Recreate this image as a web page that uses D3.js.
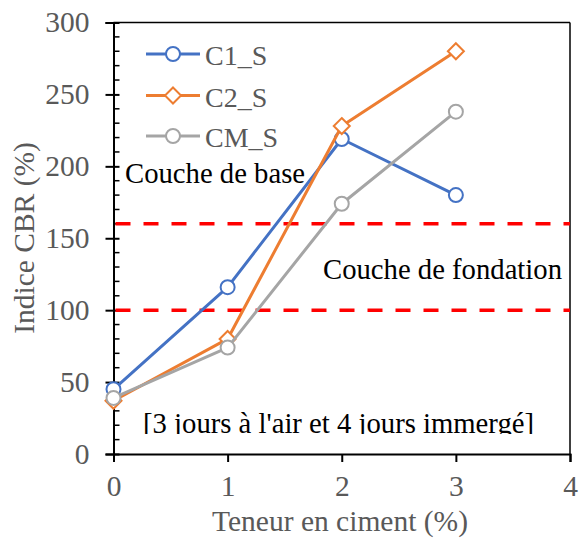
<!DOCTYPE html>
<html>
<head>
<meta charset="utf-8">
<script src="https://cdn.jsdelivr.net/npm/d3@7/dist/d3.min.js"></script>
<style>
  html, body { margin: 0; padding: 0; background: #fff; }
  svg { display: block; }
</style>
</head>
<body>
<svg id="chart" width="585" height="539"></svg>
<script>
const xValues = [0, 1, 2, 3];
const seriesNames = ["C1_S", "C2_S", "CM_S"];
const c1Values = [45, 116, 219, 180];
const c2Values = [37, 80, 228, 280];
const cmValues = [39, 74, 174, 238];
const seriesColors = ["#4472C4", "#ED7D31", "#A5A5A5"];
const seriesMarkers = ["circle", "diamond", "circle"];
const xTicks = [0, 1, 2, 3, 4];
const yTicks = [0, 50, 100, 150, 200, 250, 300];
const thresholds = [160, 100];
const annotations = ["Couche de base", "Couche de fondation", "[3 jours à l'air et 4 jours immergé]"];
const xTitle = "Teneur en ciment (%)";
const yTitle = "Indice CBR (%)";

const allValues = [c1Values, c2Values, cmValues];
const series = seriesNames.map((n, i) => ({
  name: n, color: seriesColors[i], marker: seriesMarkers[i],
  points: xValues.map((x, j) => ({x: x, y: allValues[i][j]}))
}));

const svg = d3.select("#chart");
const L = 113.5, R = 570, T = 22.5, B = 454;
const x = d3.scaleLinear().domain([0, 4]).range([L, R]);
const y = d3.scaleLinear().domain([0, 300]).range([B, T]);
const FS_AX = 29.5, FS_AN = 28.7, FS_LG = 28;
const grayText = "#595959";
const FF = "'Liberation Serif', 'Times New Roman', Tinos, serif";

svg.append("defs").append("clipPath").attr("id", "plotclip")
  .append("rect").attr("x", L).attr("y", T).attr("width", R - L).attr("height", 434 - T);

// frame top/right
svg.append("line").attr("x1", L).attr("x2", R).attr("y1", T).attr("y2", T).attr("stroke", "#000").attr("stroke-width", 1.5);
svg.append("line").attr("x1", R).attr("x2", R).attr("y1", T).attr("y2", B).attr("stroke", "#000").attr("stroke-width", 1.5);

// minor y ticks (inside)
const minor = d3.range(0, 301, 10).filter(v => v % 50 !== 0);
svg.append("g").selectAll("line").data(minor).join("line")
  .attr("x1", L).attr("x2", L + 6).attr("y1", d => y(d)).attr("y2", d => y(d))
  .attr("stroke", "#000").attr("stroke-width", 1.5);

// y axis
const yAxis = svg.append("g").attr("transform", `translate(${L},0)`)
  .call(d3.axisLeft(y).tickValues(yTicks).tickSize(8).tickPadding(16).tickFormat(d3.format("d")));
yAxis.attr("font-family", FF).attr("font-size", FS_AX);
yAxis.select(".domain").attr("stroke", "#000").attr("stroke-width", 2);
yAxis.selectAll(".tick line").attr("stroke", "#000").attr("stroke-width", 2).attr("x2", -8).attr("x1", 6);
yAxis.selectAll(".tick text").attr("fill", grayText);

// x axis
const xAxis = svg.append("g").attr("transform", `translate(0,${B})`)
  .call(d3.axisBottom(x).tickValues(xTicks).tickSize(8).tickPadding(13).tickFormat(d3.format("d")));
xAxis.attr("font-family", FF).attr("font-size", FS_AX);
xAxis.select(".domain").attr("stroke", "#000").attr("stroke-width", 2);
xAxis.selectAll(".tick line").attr("stroke", "#000").attr("stroke-width", 2);
xAxis.selectAll(".tick text").attr("fill", grayText);

// axis titles
svg.append("text").attr("x", 340).attr("y", 531).attr("text-anchor", "middle")
  .attr("font-family", FF).attr("fill", grayText).attr("font-size", FS_AX).text(xTitle);
svg.append("text").attr("transform", `translate(33.5,238) rotate(-90)`)
  .attr("font-family", FF).attr("text-anchor", "middle").attr("fill", grayText).attr("font-size", FS_AX).text(yTitle);

// threshold dashed lines
svg.append("g").selectAll("line").data(thresholds).join("line")
  .attr("x1", L + 2).attr("x2", R).attr("y1", d => y(d)).attr("y2", d => y(d))
  .attr("stroke", "#FF0000").attr("stroke-width", 3.5).attr("stroke-dasharray", "15,13");

// annotations
svg.append("text").attr("x", 125).attr("y", 183).attr("font-family", FF).attr("font-size", FS_AN).attr("fill", "#000").text(annotations[0]);
svg.append("text").attr("x", 323).attr("y", 279).attr("font-family", FF).attr("font-size", FS_AN).attr("fill", "#000").text(annotations[1]);
svg.append("g").attr("clip-path", "url(#plotclip)")
  .append("text").attr("x", 143).attr("y", 433).attr("font-family", FF).attr("font-size", FS_AN).attr("fill", "#000").text(annotations[2]);

// series
const line = d3.line().x(d => x(d.x)).y(d => y(d.y));
const diamond = s => `M0,${-s}L${s},0L0,${s}L${-s},0Z`;
function drawMarker(g, m, color) {
  if (m === "circle") {
    g.append("circle").attr("r", 7).attr("fill", "#fff").attr("stroke", color).attr("stroke-width", 2);
  } else {
    g.append("path").attr("d", diamond(8)).attr("fill", "#fff").attr("stroke", color).attr("stroke-width", 2);
  }
}
series.forEach(s => {
  const g = svg.append("g");
  g.append("path").datum(s.points).attr("d", line).attr("fill", "none")
    .attr("stroke", s.color).attr("stroke-width", 3).attr("stroke-linejoin", "round");
  s.points.forEach(p => {
    const mg = g.append("g").attr("transform", `translate(${x(p.x)},${y(p.y)})`);
    drawMarker(mg, s.marker, s.color);
  });
});

// legend
const legY = [54, 95.5, 136];
series.forEach((s, i) => {
  const g = svg.append("g").attr("transform", `translate(0,${legY[i]})`);
  g.append("line").attr("x1", 146).attr("x2", 200).attr("stroke", s.color).attr("stroke-width", 3);
  const mg = g.append("g").attr("transform", "translate(173,0)");
  drawMarker(mg, s.marker, s.color);
  g.append("text").attr("x", 205).attr("y", 11).attr("font-family", FF).attr("font-size", FS_LG).attr("fill", grayText).text(s.name);
});
</script>
</body>
</html>
